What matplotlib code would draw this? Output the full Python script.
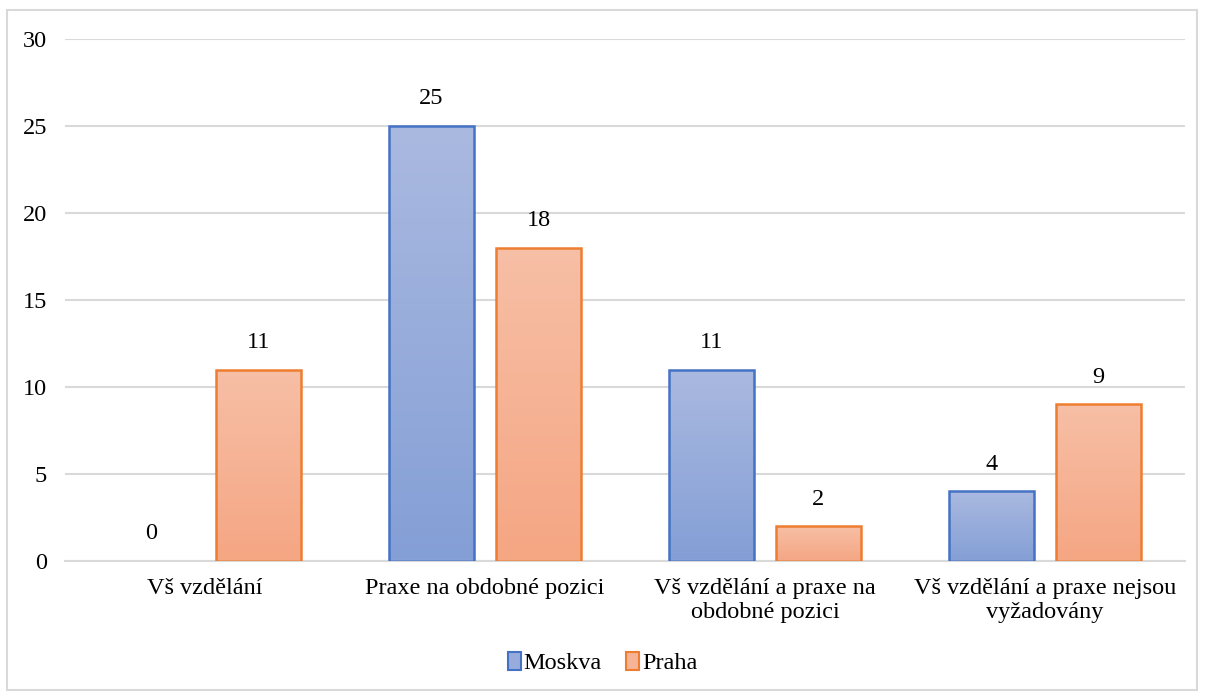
import matplotlib.pyplot as plt
import matplotlib.colors as mcolors
from matplotlib.patches import Rectangle, Patch
import numpy as np

plt.rcParams['font.family'] = ['Liberation Serif', 'DejaVu Serif']

categories = ['Vš vzdělání', 'Praxe na obdobné pozici',
              'Vš vzdělání a praxe na\nobdobné pozici',
              'Vš vzdělání a praxe nejsou\nvyžadovány']
moskva = [0, 25, 11, 4]
praha = [11, 18, 2, 9]
series_names = ['Moskva', 'Praha']

edge_colors = ['#4472C4', '#ED7D31']
grad_top = ['#AAB9E0', '#F7BFA6']
grad_bottom = ['#849FD6', '#F5A683']

W, H = 1205, 697
fs = 17.5
fig = plt.figure(figsize=(W / 100, H / 100), dpi=100)
fig.patches.append(Rectangle((7 / W, 1 - 690 / H), 1190 / W, 680 / H,
                             transform=fig.transFigure, fill=False,
                             edgecolor='#D9D9D9', linewidth=1.5))

ax = fig.add_axes([65 / W, 1 - 561 / H, 1120 / W, 522 / H])
x = np.arange(len(categories))
width = 0.304
offset = 0.191

for values, shift, ec, top, bot in zip([moskva, praha], [-offset, offset],
                                       edge_colors, grad_top, grad_bottom):
    cmap = mcolors.LinearSegmentedColormap.from_list('g', [bot, top])
    bars = ax.bar(x + shift, values, width, facecolor='none', edgecolor=ec,
                  linewidth=1.8, zorder=3)
    for b, v in zip(bars, values):
        if v > 0:
            grad = np.linspace(0, 1, 256).reshape(-1, 1)
            im = ax.imshow(grad, cmap=cmap, origin='lower', aspect='auto',
                           extent=[b.get_x(), b.get_x() + b.get_width(), 0, v],
                           zorder=2)
            im.set_clip_path(b)
        else:
            b.set_visible(False)
        ax.text(b.get_x() + b.get_width() / 2, v + 0.95, str(v),
                ha='center', va='bottom', fontsize=fs)

ax.set_xlim(-0.5, 3.5)
ax.set_ylim(0, 30)
ax.set_yticks(range(0, 31, 5))
ax.set_xticks(x)
ax.set_xticklabels(categories, fontsize=fs, linespacing=1.18)
ax.tick_params(axis='y', labelsize=fs, length=0, pad=13)
ax.tick_params(axis='x', length=0, pad=12)
ax.grid(axis='y', color='#D9D9D9', linewidth=1.5, zorder=0)
for s in ['top', 'right', 'left']:
    ax.spines[s].set_visible(False)
ax.spines['bottom'].set_color('#D9D9D9')
ax.spines['bottom'].set_linewidth(1.5)

handles = [Patch(facecolor='#98ACDB', edgecolor=edge_colors[0], linewidth=1.5),
           Patch(facecolor='#F6B395', edgecolor=edge_colors[1], linewidth=1.5)]
fig.legend(handles, series_names, loc='center', bbox_to_anchor=(0.5, 1 - 663 / H),
           ncol=2, frameon=False, fontsize=fs, handlelength=0.55, handleheight=0.8,
           handletextpad=0.1, columnspacing=1.0)

fig.savefig('out.png', dpi=100)
